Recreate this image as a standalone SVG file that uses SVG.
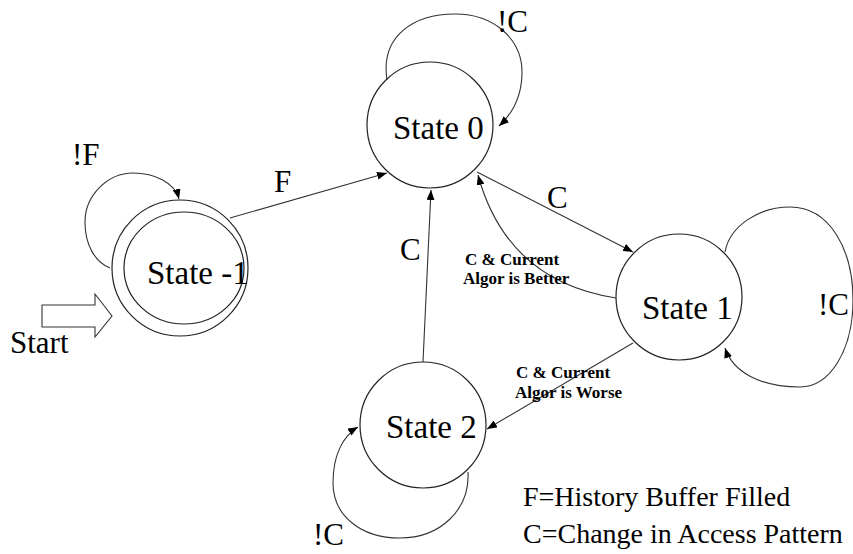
<svg xmlns="http://www.w3.org/2000/svg" width="853" height="554" viewBox="0 0 853 554">
<style>
.st{fill:none;stroke:#222;stroke-width:1.2}
.ln{fill:none;stroke:#333;stroke-width:1.1}
text{font-family:'Liberation Serif','Times New Roman',Times,'DejaVu Serif',serif;fill:#000;font-weight:normal;font-style:normal}
.big{font-size:33px}
.lab{font-size:31px}
.sm{font-size:17px;font-weight:bold}
.leg{font-size:28px}
</style>
<defs>
<marker id="ah" viewBox="0 0 10 8" refX="10" refY="4" markerWidth="10" markerHeight="8" markerUnits="userSpaceOnUse" orient="auto">
<path d="M0,0 L10,4 L0,8 Z" fill="#000"/>
</marker>
</defs>
<rect width="853" height="554" fill="#fff"/>
<g id="connectors">
<path class="ln" d="M230,218 L387,173" marker-end="url(#ah)"/>
<path class="ln" d="M423,362 L431,190" marker-end="url(#ah)"/>
<path class="ln" d="M477,172 L633,252" marker-end="url(#ah)"/>
<path class="ln" d="M616,298 Q507,281 478,175" marker-end="url(#ah)"/>
<path class="ln" d="M633,343 L487,429" marker-end="url(#ah)"/>
<path class="ln" d="M110,268 C95,262 85,245 85,222 C85,195 108,173 133,173 C155,173 175,183 179,199" marker-end="url(#ah)"/>
<path class="ln" d="M387,80 C380,35 415,14 455,14 C495,14 522,40 522,72 C522,98 512,114 499,126" marker-end="url(#ah)"/>
<path class="ln" d="M725,252 C730,225 760,207 790,207 C830,207 853,250 853,300 C853,350 830,387 800,387 C760,387 733,372 725,348" marker-end="url(#ah)"/>
<path class="ln" d="M468,472 C470,510 440,538 400,538 C360,538 333,515 333,483 C333,455 343,436 358,427" marker-end="url(#ah)"/>
<path class="ln" d="M42,305 H95 V294 L112,316 L95,337 V327 H42 Z"/>
</g>
<g id="state-1">
<circle class="st" cx="180" cy="268" r="68"/>
<ellipse class="st" cx="184" cy="268" rx="60" ry="56"/>
<text class="big" x="147" y="284">State -1</text>
</g>
<g id="state0">
<circle class="st" cx="430" cy="125" r="63"/>
<text class="big" x="393" y="139">State 0</text>
</g>
<g id="state1">
<circle class="st" cx="679" cy="297" r="63"/>
<text class="big" x="642" y="319">State 1</text>
</g>
<g id="state2">
<circle class="st" cx="423" cy="425" r="63"/>
<text class="big" x="386" y="438">State 2</text>
</g>
<g id="labels">
<text class="lab" x="72" y="165">!F</text>
<text class="lab" x="274" y="192">F</text>
<text class="lab" x="497" y="32">!C</text>
<text class="lab" x="547" y="208">C</text>
<text class="lab" x="400" y="260">C</text>
<text class="lab" x="818" y="315">!C</text>
<text class="lab" x="313" y="545">!C</text>
<text class="lab" x="10" y="353">Start</text>
<text class="sm" x="465" y="265">C &amp; Current</text>
<text class="sm" x="463" y="284">Algor is Better</text>
<text class="sm" x="516" y="378">C &amp; Current</text>
<text class="sm" x="515" y="398">Algor is Worse</text>
<text class="leg" x="523" y="506">F=History Buffer Filled</text>
<text class="leg" x="523" y="543">C=Change in Access Pattern</text>
</g>
</svg>
